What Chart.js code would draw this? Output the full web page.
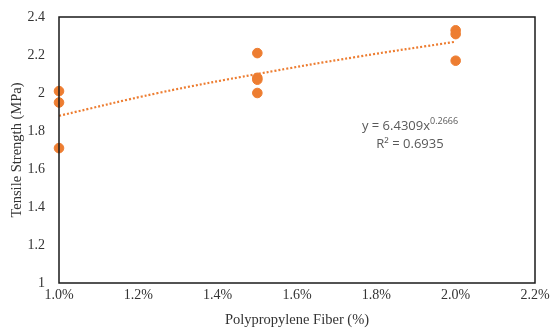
<!DOCTYPE html>
<html>
<head>
<meta charset="utf-8">
<script src="https://cdn.jsdelivr.net/npm/chart.js@4"></script>
<style>
  html, body { margin: 0; padding: 0; background: #fff; }
  #wrap { width: 553px; height: 329px; }
</style>
</head>
<body>
<div id="wrap"><canvas id="strengthChart"></canvas></div>
<script>
// measured values (fiber %, tensile strength MPa)
const fiberPct = [1.0, 1.0, 1.0, 1.5, 1.5, 1.5, 1.5, 2.0, 2.0, 2.0];
const strength = [2.01, 1.95, 1.71, 2.21, 2.08, 2.07, 2.00, 2.33, 2.31, 2.17];

// power trendline
const trendX = [1.0, 1.25, 1.5, 1.75, 2.0];
const trendY = [1.88, 2.00, 2.10, 2.19, 2.27];

const eqLine1 = 'y = 6.4309x';
const eqExp = '0.2666';
const eqLine2 = 'R² = 0.6935';

const orange = '#ED7D31';
const serif = '"Liberation Serif", "Times New Roman", serif';

const boxPlugin = {
    id: 'boxPlugin',
    afterDraw(chart) {
        const { ctx, chartArea: a } = chart;
        ctx.save();
        ctx.strokeStyle = '#1a1a1a';
        ctx.lineWidth = 1.5;
        ctx.strokeRect(a.left, a.top, a.right - a.left, a.bottom - a.top);

        // trendline label
        ctx.fillStyle = '#595959';
        ctx.font = '13px "Open Sans", "Liberation Sans", sans-serif';
        ctx.textBaseline = 'middle';
        const w1 = ctx.measureText(eqLine1).width;
        ctx.font = '9px "Open Sans", "Liberation Sans", sans-serif';
        const w2 = ctx.measureText(eqExp).width;
        const cx = a.left + 351;
        let x0 = cx - (w1 + w2) / 2;
        ctx.font = '13px "Open Sans", "Liberation Sans", sans-serif';
        ctx.textAlign = 'left';
        ctx.fillText(eqLine1, x0, a.top + 109);
        ctx.font = '9px "Open Sans", "Liberation Sans", sans-serif';
        ctx.fillText(eqExp, x0 + w1, a.top + 104);
        ctx.font = '13px "Open Sans", "Liberation Sans", sans-serif';
        ctx.textAlign = 'center';
        ctx.fillText(eqLine2, cx, a.top + 127);
        ctx.restore();
    }
};

const ctx = document.getElementById('strengthChart').getContext('2d');
new Chart(ctx, {
    type: 'scatter',
    data: {
        datasets: [{
            label: 'Trend',
            type: 'line',
            data: trendX.map((x, i) => ({ x: x, y: trendY[i] })),
            borderColor: orange,
            borderWidth: 2.2,
            borderDash: [2, 2],
            pointRadius: 0,
            tension: 0.4,
            fill: false,
            order: 2
        }, {
            label: 'Tensile Strength',
            data: fiberPct.map((x, i) => ({ x: x, y: strength[i] })),
            backgroundColor: orange,
            borderColor: orange,
            pointRadius: 4.8,
            clip: false,
            order: 1
        }]
    },
    options: {
        responsive: true,
        maintainAspectRatio: false,
        animation: false,
        layout: { padding: { top: 17, right: 18, left: 0, bottom: 0 } },
        plugins: {
            legend: { display: false },
            tooltip: { enabled: false }
        },
        scales: {
            x: {
                type: 'linear',
                min: 1.0,
                max: 2.2,
                ticks: {
                    stepSize: 0.2,
                    padding: -4,
                    color: '#333',
                    font: { family: serif, size: 14 },
                    callback: v => v.toFixed(1) + '%'
                },
                grid: { display: false },
                border: { display: false },
                title: {
                    display: true,
                    text: 'Polypropylene Fiber (%)',
                    color: '#333',
                    padding: { top: 0, bottom: 0 },
                    font: { family: serif, size: 14.5 }
                },
                afterFit(scale) { scale.height = 46; }
            },
            y: {
                min: 1,
                max: 2.4,
                ticks: {
                    stepSize: 0.2,
                    padding: 6,
                    color: '#333',
                    font: { family: serif, size: 14 },
                    callback: v => Number(v.toFixed(1)).toString()
                },
                grid: { display: false },
                border: { display: false },
                title: {
                    display: true,
                    text: 'Tensile Strength (MPa)',
                    color: '#333',
                    padding: { top: 8, bottom: 0 },
                    font: { family: serif, size: 14.5 }
                },
                afterFit(scale) { scale.width = 59; }
            }
        }
    },
    plugins: [boxPlugin]
});
</script>
</body>
</html>
